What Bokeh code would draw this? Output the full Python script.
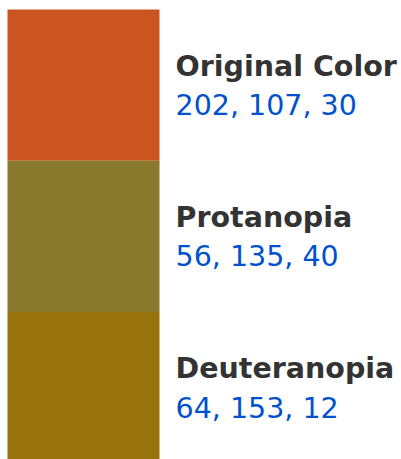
from bokeh.plotting import figure
from bokeh.models import Range1d, ColumnDataSource
from bokeh.core.properties import value
from bokeh.embed import file_html
from bokeh.resources import INLINE

labels = ["Original Color", "Protanopia", "Deuteranopia"]
rgb_texts = ["202, 107, 30", "56, 135, 40", "64, 153, 12"]
swatch_colors = ["#CB5520", "#88792C", "#98720D"]

idx = list(range(len(labels)))
src = ColumnDataSource(dict(
    y=[i + 0.5 for i in idx],
    label=labels,
    rgb=rgb_texts,
    color=swatch_colors,
))

p = figure(width=401, height=459, output_backend="svg", toolbar_location=None,
           x_range=Range1d(0, 401), y_range=Range1d(2.974, -0.0595),
           min_border=0, outline_line_color=None)
p.axis.visible = False
p.grid.visible = False
p.background_fill_color = "white"
p.border_fill_color = "white"

p.rect(x=83, y="y", width=152, height=1, source=src, fill_color="color",
       line_color=None)

p.text(x=175, y="y", text="label", source=src, y_offset=-19,
       text_font=value("DejaVu Sans"), text_font_style="bold",
       text_font_size="28.5px", text_color="#333333",
       text_baseline="alphabetic", text_align="left")
p.text(x=175, y="y", text="rgb", source=src, y_offset=20.5,
       text_font=value("DejaVu Sans"), text_font_size="28.5px",
       text_color="#0052CC", text_baseline="alphabetic", text_align="left")

open("out.html", "w").write(file_html(p, INLINE))
